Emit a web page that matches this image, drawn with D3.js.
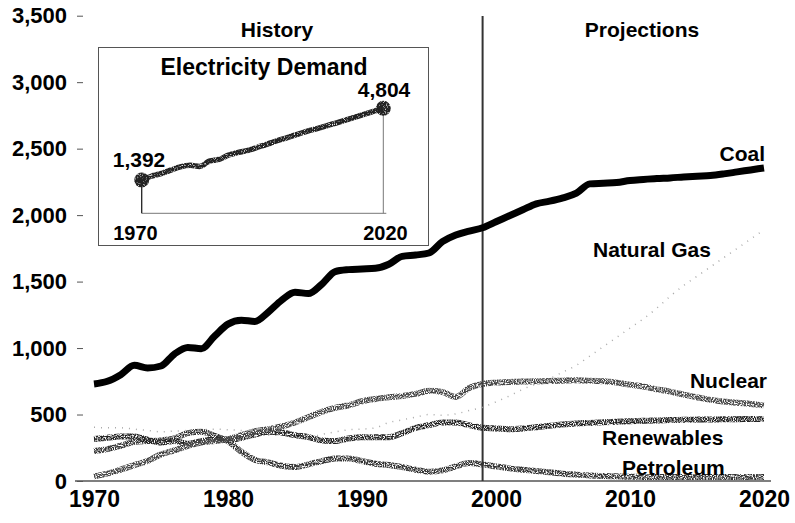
<!DOCTYPE html>
<html>
<head>
<meta charset="utf-8">
<script src="https://cdn.jsdelivr.net/npm/d3@7"></script>
<style>
  body { margin: 0; background: #fff; }
  svg { display: block; font-family: "Liberation Sans", Arial, sans-serif; font-weight: bold; }
</style>
</head>
<body>
<svg id="chart" width="795" height="523"></svg>
<script>
// generation by fuel, billion kWh, 1970-2020
var years = d3.range(1970, 2021);

var coal = [730, 750, 800, 870, 850, 865, 955, 1005, 995, 1090,
    1180, 1210, 1200, 1270, 1360, 1420, 1410, 1480, 1575, 1590,
    1595, 1600, 1630, 1690, 1700, 1715, 1800, 1850, 1880, 1905,
    1950, 1995, 2040, 2085, 2105, 2130, 2165, 2235, 2240, 2245,
    2260, 2268, 2275, 2280, 2287, 2293, 2298, 2310, 2325, 2340, 2355];

var naturalGas = [405, 400, 400, 390, 380, 370, 375, 380, 385, 390,
    385, 380, 360, 345, 345, 335, 330, 350, 370, 385,
    390, 400, 440, 460, 480, 500, 495, 505, 530, 555,
    595, 640, 690, 730, 770, 820, 870, 940, 1010, 1080,
    1150, 1220, 1300, 1390, 1470, 1540, 1610, 1680, 1750, 1820, 1890];

var nuclear = [35, 55, 85, 120, 150, 200, 230, 265, 290, 300,
    315, 345, 375, 390, 410, 440, 480, 520, 550, 570,
    600, 617, 630, 640, 655, 678, 670, 632, 700, 730,
    740, 745, 748, 750, 752, 755, 757, 755, 750, 740,
    725, 710, 690, 672, 650, 630, 610, 598, 588, 580, 570];

var renewables = [316, 325, 335, 335, 310, 290, 300, 280, 300, 310,
    310, 325, 350, 370, 365, 345, 330, 305, 300, 320,
    330, 330, 330, 360, 400, 420, 440, 440, 420, 400,
    395, 390, 395, 405, 415, 425, 432, 437, 442, 446,
    450, 453, 456, 458, 460, 462, 463, 464, 465, 466, 467];

var petroleum = [226, 240, 265, 295, 300, 305, 320, 360, 370, 340,
    300, 220, 160, 140, 115, 105, 125, 150, 170, 170,
    150, 130, 120, 105, 85, 70, 80, 110, 135, 125,
    110, 95, 85, 75, 65, 55, 48, 42, 38, 35,
    32, 31, 30, 30, 30, 30, 30, 30, 30, 30, 30];

var yTicks = [0, 500, 1000, 1500, 2000, 2500, 3000, 3500];
var xTicks = [1970, 1980, 1990, 2000, 2010, 2020];
var lastHistoryYear = 1999;

// inset: electricity demand
var demandYears = [1970, 1972, 1974, 1976, 1978, 1980, 1982, 1984, 1986, 1988,
    1990, 1992, 1994, 1996, 1998, 2000, 2005, 2010, 2015, 2020];
var demand = [1392, 1570, 1700, 1860, 2020, 2090, 2040, 2290, 2370, 2580,
    2710, 2800, 2950, 3100, 3260, 3400, 3760, 4090, 4440, 4804];

var svg = d3.select("#chart");

// speckled texture for the grey lines
var defs = svg.append("defs");
function addSpeckle(id, slope, offset) {
    var f = defs.append("filter")
        .attr("id", id)
        .attr("x", "-5%").attr("y", "-20%")
        .attr("width", "110%").attr("height", "140%");
    f.append("feTurbulence")
        .attr("type", "fractalNoise")
        .attr("baseFrequency", 0.9)
        .attr("numOctaves", 1)
        .attr("seed", 3)
        .attr("result", "noise");
    f.append("feColorMatrix")
        .attr("in", "noise")
        .attr("type", "matrix")
        .attr("values", "0 0 0 0 0  0 0 0 0 0  0 0 0 0 0  " + slope + " 0 0 0 " + offset)
        .attr("result", "mask");
    f.append("feComposite")
        .attr("in", "SourceGraphic")
        .attr("in2", "mask")
        .attr("operator", "in");
}
addSpeckle("speckle", 4, -1.3);
addSpeckle("speckleDark", 4, -0.9);

var x = d3.scaleLinear().domain([1970, 2020]).range([94, 764]);
var y = d3.scaleLinear().domain([0, 3500]).range([481, 15.7]);

// y axis
var yAxis = svg.append("g").attr("transform", "translate(83,0)")
    .call(d3.axisLeft(y).tickValues(yTicks).tickSize(6).tickPadding(10)
        .tickFormat(d3.format(",")));
yAxis.select(".domain").remove();
yAxis.selectAll("line").attr("stroke", "#555");
yAxis.selectAll("text").attr("font-size", 22).attr("fill", "#000")
    .attr("font-family", "Liberation Sans, Arial, sans-serif").attr("font-weight", "bold");

// x axis
svg.append("line")
    .attr("x1", 75).attr("x2", 771)
    .attr("y1", y(0)).attr("y2", y(0))
    .attr("stroke", "#555").attr("stroke-width", 1.5);

var xAxis = svg.append("g").attr("transform", "translate(0," + y(0) + ")")
    .call(d3.axisBottom(x).tickValues(xTicks).tickSize(0).tickPadding(10)
        .tickFormat(d3.format("d")));
xAxis.select(".domain").remove();
xAxis.selectAll("text").attr("font-size", 23).attr("fill", "#000")
    .attr("font-family", "Liberation Sans, Arial, sans-serif").attr("font-weight", "bold");

// history / projections divider
svg.append("line")
    .attr("x1", x(lastHistoryYear)).attr("x2", x(lastHistoryYear))
    .attr("y1", 16).attr("y2", y(0))
    .attr("stroke", "#333").attr("stroke-width", 2);

svg.append("text").text("History")
    .attr("x", 277).attr("y", 37).attr("text-anchor", "middle").attr("font-size", 21);
svg.append("text").text("Projections")
    .attr("x", 642).attr("y", 37).attr("text-anchor", "middle").attr("font-size", 21);

var line = d3.line()
    .x(function(d, i) { return x(years[i]); })
    .y(function(d) { return y(d); })
    .curve(d3.curveMonotoneX);

function drawGrey(values, width, colour) {
    svg.append("path")
        .datum(values)
        .attr("d", line)
        .attr("fill", "none")
        .attr("stroke", colour)
        .attr("stroke-width", width)
        .attr("stroke-linejoin", "round")
        .attr("filter", "url(#speckle)");
}

// natural gas: sparse dots
svg.append("path")
    .datum(naturalGas)
    .attr("d", line)
    .attr("fill", "none")
    .attr("stroke", "#aaa")
    .attr("stroke-width", 1.5)
    .attr("stroke-dasharray", "1 6");

drawGrey(petroleum, 6, "#333");
drawGrey(renewables, 6, "#222");
drawGrey(nuclear, 6, "#444");

svg.append("path")
    .datum(coal)
    .attr("d", line)
    .attr("fill", "none")
    .attr("stroke", "#000")
    .attr("stroke-width", 7)
    .attr("stroke-linejoin", "round");

// series labels
var labels = [
    {name: "Coal", x: 765, y: 161, anchor: "end"},
    {name: "Natural Gas", x: 593, y: 257, anchor: "start"},
    {name: "Nuclear", x: 767, y: 388, anchor: "end"},
    {name: "Renewables", x: 602, y: 445, anchor: "start"},
    {name: "Petroleum", x: 622, y: 475, anchor: "start"}
];
labels.forEach(function(l) {
    svg.append("text").text(l.name)
        .attr("x", l.x).attr("y", l.y)
        .attr("text-anchor", l.anchor)
        .attr("font-size", 21);
});

// inset box
var inset = svg.append("g");
inset.append("rect")
    .attr("x", 98.5).attr("y", 47.5)
    .attr("width", 330).attr("height", 198)
    .attr("fill", "#fff")
    .attr("stroke", "#555").attr("stroke-width", 1);

inset.append("text").text("Electricity Demand")
    .attr("x", 264).attr("y", 75).attr("text-anchor", "middle").attr("font-size", 23);

var ix = d3.scaleLinear().domain([1970, 2020]).range([141.7, 383.3]);
var iy = d3.scaleLinear().domain([1392, 4804]).range([180, 108.3]);
var baseY = 213.3;

inset.append("line")
    .attr("x1", ix(1970)).attr("x2", ix(2020) + 3)
    .attr("y1", baseY).attr("y2", baseY)
    .attr("stroke", "#777").attr("stroke-width", 1);
inset.append("line")
    .attr("x1", ix(1970)).attr("x2", ix(1970))
    .attr("y1", iy(demand[0])).attr("y2", baseY)
    .attr("stroke", "#222").attr("stroke-width", 1.3);
inset.append("line")
    .attr("x1", ix(2020)).attr("x2", ix(2020))
    .attr("y1", iy(demand[demand.length - 1])).attr("y2", baseY)
    .attr("stroke", "#777").attr("stroke-width", 1);

var demandLine = d3.line()
    .x(function(d, i) { return ix(demandYears[i]); })
    .y(function(d) { return iy(d); })
    .curve(d3.curveMonotoneX);

inset.append("path")
    .datum(demand)
    .attr("d", demandLine)
    .attr("fill", "none")
    .attr("stroke", "#222")
    .attr("stroke-width", 5.5)
    .attr("filter", "url(#speckleDark)");

inset.selectAll("circle.end")
    .data([0, demand.length - 1])
    .enter().append("circle")
    .attr("cx", function(i) { return ix(demandYears[i]); })
    .attr("cy", function(i) { return iy(demand[i]); })
    .attr("r", 7.5)
    .attr("fill", "#222")
    .attr("filter", "url(#speckleDark)");

inset.append("text").text(d3.format(",")(demand[0]))
    .attr("x", 139).attr("y", 167).attr("text-anchor", "middle").attr("font-size", 21);
inset.append("text").text(d3.format(",")(demand[demand.length - 1]))
    .attr("x", 384).attr("y", 97).attr("text-anchor", "middle").attr("font-size", 21);
inset.append("text").text("1970")
    .attr("x", 135.5).attr("y", 240).attr("text-anchor", "middle").attr("font-size", 20);
inset.append("text").text("2020")
    .attr("x", 385.5).attr("y", 240).attr("text-anchor", "middle").attr("font-size", 20);
</script>
</body>
</html>
